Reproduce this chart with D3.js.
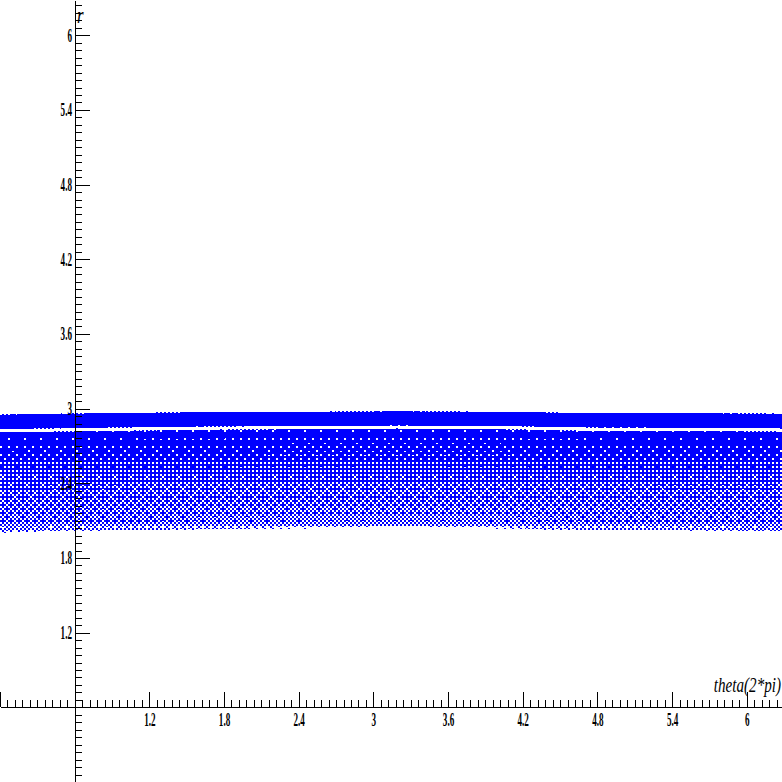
<!DOCTYPE html>
<html>
<head>
<meta charset="utf-8">
<script src="https://cdn.jsdelivr.net/npm/d3@7"></script>
<style>
  html, body { margin: 0; padding: 0; background: #fff; }
  svg { display: block; }
</style>
</head>
<body>
<div id="chart"></div>
<script>
// r vs theta scatter, axes crossing at (0.6, 0.6)
const W = 782, H = 782;
const TWO_PI = 2 * Math.PI;
const axisAt = 0.6;

// tick values (same on both axes)
const majorTicks = [0, 0.6, 1.2, 1.8, 2.4, 3, 3.6, 4.2, 4.8, 5.4, 6];
const tickLabels = ['1.2', '1.8', '2.4', '3', '3.6', '4.2', '4.8', '5.4', '6'];
const minorStep = 0.06;

// density profile of the point cloud at theta = 0 (r -> share of covered pixels)
const profileR     = [2.000, 2.012, 2.065, 2.185, 2.346, 2.507, 2.667, 2.808, 2.812, 2.834, 2.838, 2.951, 2.955];
const profileCover = [0,     0.38,  0.55,  0.62,  0.68,  0.76,  0.92,  0.97,  0.08,  0.08,  1,     1,     0];

// how far the cloud rises along theta (top edge / bottom edge, in r)
const edgeTheta       = [0, 0.8,   1.6,   2.4,   3.2,   4.0,   4.8,   5.6,   6.28];
const edgeShiftTop    = [0, 0.010, 0.018, 0.022, 0.026, 0.022, 0.010, 0.010, 0.006];
const edgeShiftBottom = [0, 0.012, 0.028, 0.036, 0.044, 0.036, 0.020, 0.012, 0.004];

// ordered dither matrix used to render the density as points
const bayer = [
  [0, 32, 8, 40, 2, 34, 10, 42],
  [48, 16, 56, 24, 50, 18, 58, 26],
  [12, 44, 4, 36, 14, 46, 6, 38],
  [60, 28, 52, 20, 62, 30, 54, 22],
  [3, 35, 11, 43, 1, 33, 9, 41],
  [51, 19, 59, 27, 49, 17, 57, 25],
  [15, 47, 7, 39, 13, 45, 5, 37],
  [63, 31, 55, 23, 61, 29, 53, 21]
];

const x = d3.scaleLinear().domain([0, TWO_PI]).range([0, W]);
const y = d3.scaleLinear().domain([0, TWO_PI]).range([H, 0]);

const svg = d3.select('#chart').append('svg')
  .attr('width', W)
  .attr('height', H);

// ---- point cloud ----
const shiftTop = d3.scaleLinear().domain(edgeTheta).range(edgeShiftTop);
const shiftBot = d3.scaleLinear().domain(edgeTheta).range(edgeShiftBottom);
const cover = d3.scaleLinear().domain(profileR).range(profileCover).clamp(true);
const R0 = profileR[profileR.length - 1];
const D = R0 - profileR[0];

let d = '';
const rowTop = Math.floor(y(3.05)), rowBot = Math.ceil(y(1.95));
for (let j = rowTop; j <= rowBot; j++) {
  let runStart = -1;
  for (let i = 0; i <= W; i++) {
    let on = false;
    if (i < W) {
      const th = x.invert(i + 0.5);
      const r = y.invert(j + 0.5);
      const sT = shiftTop(th), sB = shiftBot(th);
      const k = (sB - sT) / D;
      const r0 = (r - sT - k * R0) / (1 - k);
      const c = cover(r0);
      // 2x2 pixel cells give the grainy look of the markers
      const t = (bayer[(j >> 1) % 8][(i >> 1) % 8] + 0.5) / 64;
      on = c > t;
    }
    if (on && runStart < 0) runStart = i;
    if (!on && runStart >= 0) {
      const px = Math.round(x(x.invert(runStart)));
      d += `M${px},${j}h${i - runStart}v1h${-(i - runStart)}z`;
      runStart = -1;
    }
  }
}
svg.append('path')
  .attr('d', d)
  .attr('fill', '#0000ff')
  .attr('shape-rendering', 'crispEdges');

// ---- axes ----
const minorTicks = d3.range(0, TWO_PI, minorStep);
const xAxisY = Math.round(y(axisAt)) - 0.5;
const yAxisX = Math.round(x(axisAt)) - 0.5;

const xg = svg.append('g')
  .attr('transform', `translate(0,${xAxisY})`)
  .attr('shape-rendering', 'crispEdges');
xg.call(d3.axisTop(x).tickValues(minorTicks).tickSize(7).tickSizeOuter(0).tickFormat(''));
xg.append('g').call(d3.axisTop(x).tickValues(majorTicks).tickSize(15).tickSizeOuter(0).tickFormat(''));

const yg = svg.append('g')
  .attr('transform', `translate(${yAxisX},0)`)
  .attr('shape-rendering', 'crispEdges');
yg.call(d3.axisRight(y).tickValues(minorTicks).tickSize(7).tickSizeOuter(0).tickFormat(''));
yg.append('g').call(d3.axisRight(y).tickValues(majorTicks).tickSize(15).tickSizeOuter(0).tickFormat(''));

svg.selectAll('.domain, .tick line').attr('stroke', '#000');

// tick labels, narrow serif
const labelFont = 'Liberation Serif, DejaVu Serif, serif';

svg.append('g').selectAll('g')
  .data(tickLabels)
  .join('g')
  .attr('transform', t => `translate(${x(+t) + 0.5},726) scale(0.48,1)`)
  .append('text')
  .attr('text-anchor', 'middle')
  .style('font-family', labelFont)
  .style('font-weight', 'bold')
  .style('font-size', '19px')
  .text(t => t);

svg.append('g').selectAll('g')
  .data(tickLabels)
  .join('g')
  .attr('transform', t => `translate(72,${y(+t) + 6.5}) scale(0.48,1)`)
  .append('text')
  .attr('text-anchor', 'end')
  .style('font-family', labelFont)
  .style('font-weight', 'bold')
  .style('font-size', '19px')
  .text(t => t);

// axis titles
svg.append('g')
  .attr('transform', 'translate(781,692) scale(0.72,1)')
  .append('text')
  .attr('text-anchor', 'end')
  .style('font-family', labelFont)
  .style('font-style', 'italic')
  .style('font-size', '21px')
  .text('theta(2*pi)');

svg.append('g')
  .attr('transform', 'translate(77,23) scale(0.7,1)')
  .append('text')
  .style('font-family', labelFont)
  .style('font-style', 'italic')
  .style('font-size', '24px')
  .text('r');
</script>
</body>
</html>
